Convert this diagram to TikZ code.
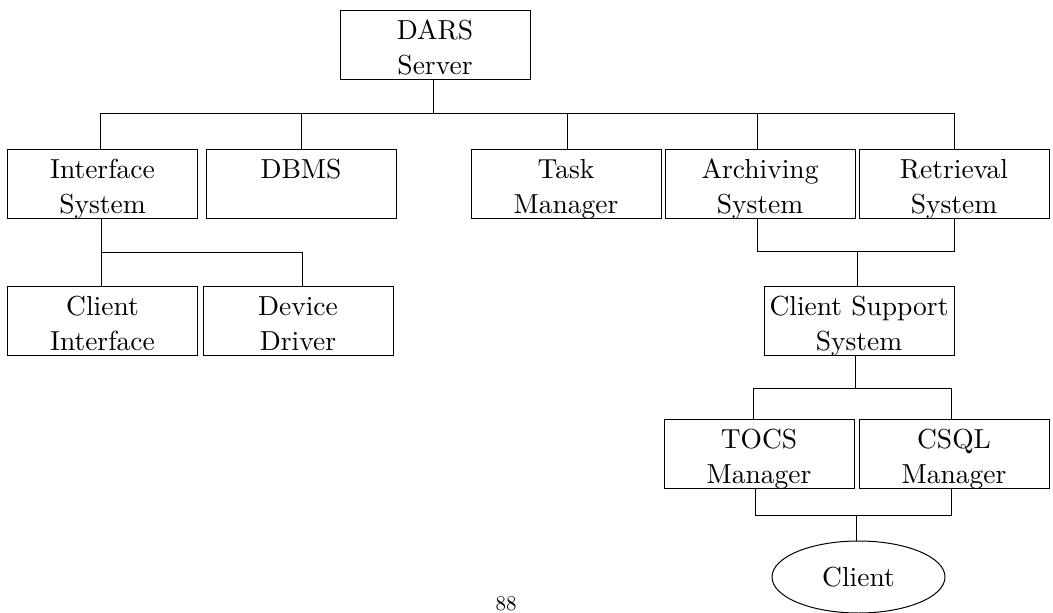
\documentclass[tikz,border=0pt]{standalone}
\usepackage{fontspec}
\setmainfont{lmroman10-regular}[Extension=.otf]
\usetikzlibrary{shapes.geometric}
\newlength{\bw}\setlength{\bw}{190pt}
\newcommand{\twoline}[2]{\parbox[c][69pt][t]{\bw}{\centering\baselineskip=35pt\rule{0pt}{29pt}#1\\#2\par}}
\newcommand{\oneline}[1]{\parbox[c][69pt][t]{\bw}{\centering\rule{0pt}{29pt}#1\par}}
\begin{document}
\begin{tikzpicture}[x=1pt,y=-1pt,
  box/.style={draw, line width=1pt, inner sep=0pt, font=\fontsize{27.5}{35}\selectfont},
  oval/.style={draw, ellipse, line width=1pt, inner sep=0pt, minimum width=173pt, minimum height=72pt, font=\fontsize{27.5}{35}\selectfont},
  link/.style={line width=1pt}]
\useasboundingbox (0,0) rectangle (1053,613);
% nodes
\node[box] (ds) at (435,44.5) {\twoline{DARS}{Server}};
\node[box] (is) at (102.5,183.5) {\twoline{Interface}{System}};
\node[box] (db) at (301,183.5) {\oneline{DBMS}};
\node[box] (tm) at (566,184) {\twoline{Task}{Manager}};
\node[box] (as) at (760,184) {\twoline{Archiving}{System}};
\node[box] (rs) at (954,184) {\twoline{Retrieval}{System}};
\node[box] (ci) at (102.5,320.5) {\twoline{Client}{Interface}};
\node[box] (dd) at (298,320.5) {\twoline{Device}{Driver}};
\node[box] (cs) at (859,321) {\twoline{Client Support}{System}};
\node[box] (tc) at (759,454) {\twoline{TOCS}{Manager}};
\node[box] (sq) at (954,454) {\twoline{CSQL}{Manager}};
\node[oval] (cl) at (858.5,577) {\raisebox{-3pt}{Client}};
\node[inner sep=0pt, anchor=south, font=\fontsize{21}{25}\selectfont] (pg) at (506,611) {88};
% bus coordinates
\coordinate (b1) at (0,113);
\coordinate (b2) at (0,252);
\coordinate (b3) at (0,251);
\coordinate (b4) at (0,388);
\coordinate (b5) at (0,515);
% connectors
\draw[link] ([xshift=-2pt]ds.south) -- ([xshift=-2pt]ds.south |- b1);
\draw[link] ([xshift=-2pt]is.north) -- ([xshift=-2pt]is.north |- b1) -- (rs.north |- b1) -- (rs.north);
\draw[link] (db.north) -- (db.north |- b1);
\draw[link] ([xshift=1pt]tm.north) -- ([xshift=1pt]tm.north |- b1);
\draw[link] ([xshift=-3pt]as.north) -- ([xshift=-3pt]as.north |- b1);
\draw[link] ([xshift=-1.5pt]is.south) -- ([xshift=-1.5pt]is.south |- b2) -- ([xshift=4pt]dd.north |- b2) -- ([xshift=4pt]dd.north);
\draw[link] ([xshift=-1.5pt]ci.north) -- ([xshift=-1.5pt]ci.north |- b2);
\draw[link] ([xshift=-3pt]as.south) -- ([xshift=-3pt]as.south |- b3) -- (rs.south |- b3) -- (rs.south);
\draw[link] ([xshift=-2pt]cs.north) -- ([xshift=-2pt]cs.north |- b3);
\draw[link] ([xshift=-4pt]cs.south) -- ([xshift=-4pt]cs.south |- b4);
\draw[link] ([xshift=-6pt]tc.north) -- ([xshift=-6pt]tc.north |- b4) -- ([xshift=-3pt]sq.north |- b4) -- ([xshift=-3pt]sq.north);
\draw[link] ([xshift=-4pt]tc.south) -- ([xshift=-4pt]tc.south |- b5) -- ([xshift=-3pt]sq.south |- b5) -- ([xshift=-3pt]sq.south);
\draw[link] ([xshift=-2.5pt]cl.north) -- ([xshift=-2.5pt]cl.north |- b5);
\end{tikzpicture}
\end{document}
